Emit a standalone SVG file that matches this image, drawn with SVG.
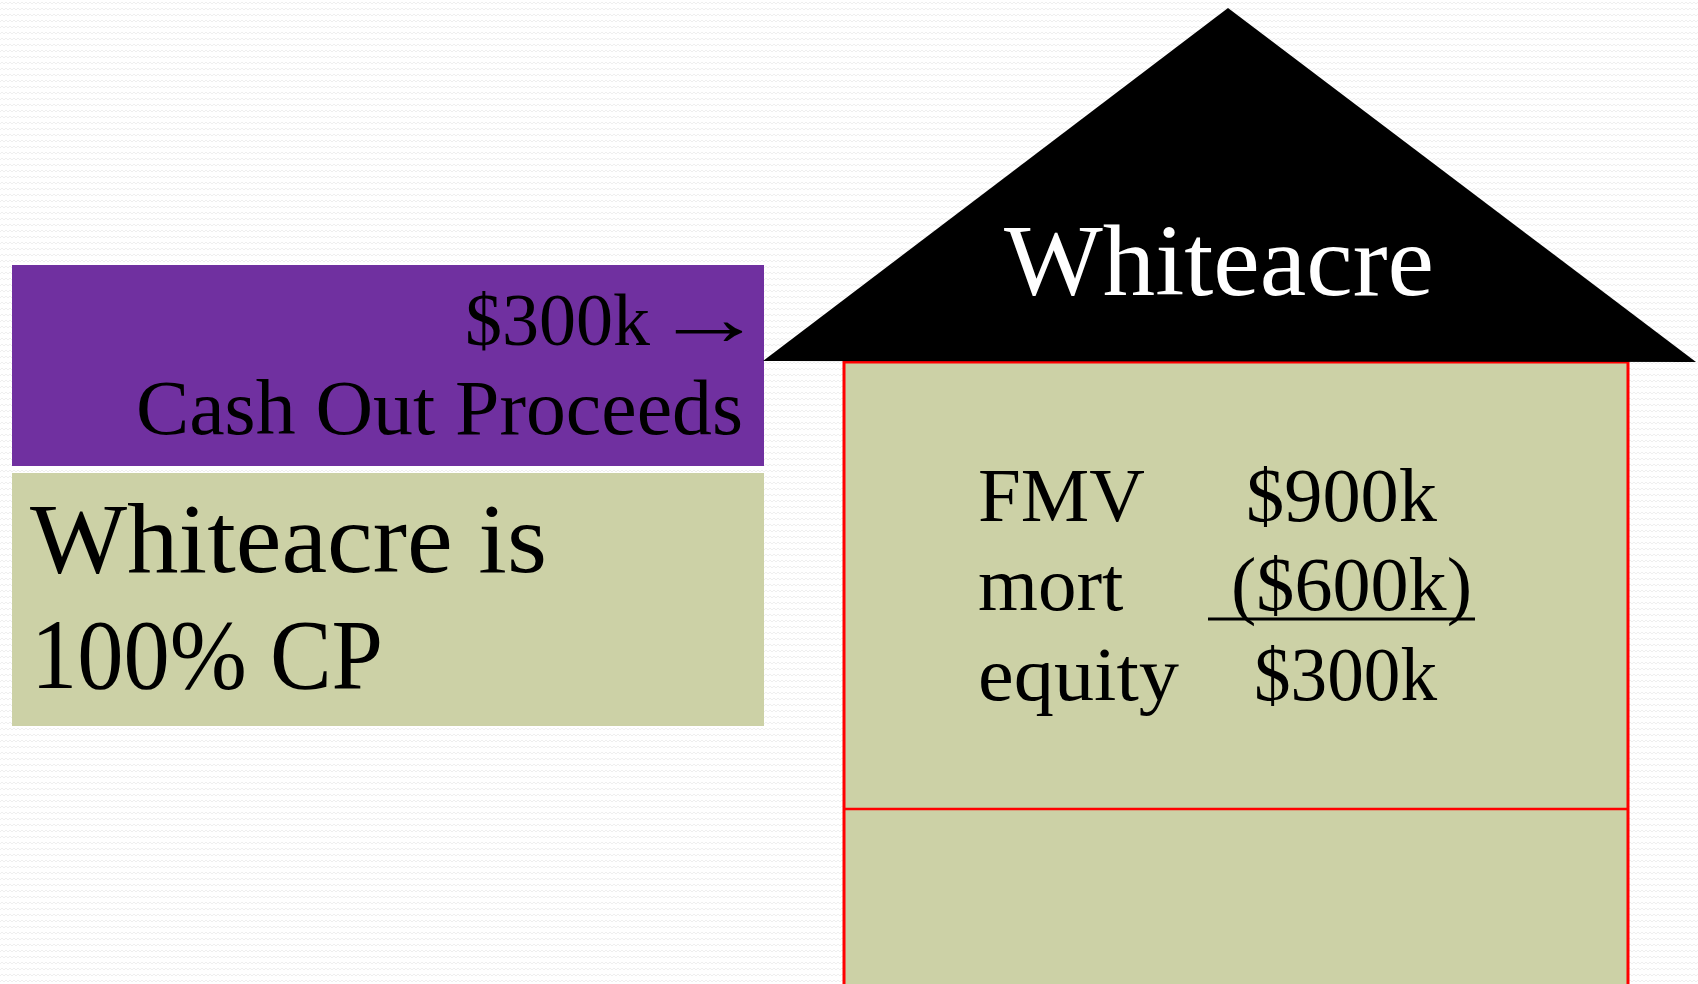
<svg xmlns="http://www.w3.org/2000/svg" width="1698" height="984" viewBox="0 0 1698 984">
  <style>
    .serif { font-family: "Liberation Serif", "DejaVu Serif", serif; }
    .dark { fill: #000000; }
    .light { fill: #FFFFFF; }
    .green { fill: #CCD1A6; }
  </style>
  <defs>
    <pattern id="bgpat" width="8" height="6" patternUnits="userSpaceOnUse">
      <rect width="8" height="6" fill="#FFFFFF"/>
      <path d="M0 4 L2 2 L4 4 L6 2 L8 4" fill="none" stroke="#EFEFEF" stroke-width="1"/>
    </pattern>
  </defs>
  <rect width="1698" height="984" fill="url(#bgpat)"/>

  <g id="cash-out">
    <rect x="12" y="265" width="752" height="201" fill="#7030A0"/>
    <text class="serif dark" x="465" y="345" font-size="74">$300k</text>
    <text class="serif dark" x="653" y="345" font-size="79" textLength="112" lengthAdjust="spacingAndGlyphs">→</text>
    <text class="serif dark" x="743" y="434" font-size="79" text-anchor="end" textLength="607" lengthAdjust="spacingAndGlyphs">Cash Out Proceeds</text>
  </g>

  <g id="cp-note">
    <rect class="green" x="12" y="473" width="752" height="253"/>
    <text class="serif dark" x="30" y="572" font-size="99" textLength="517" lengthAdjust="spacingAndGlyphs">Whiteacre is</text>
    <text class="serif dark" x="31" y="688" font-size="99" textLength="352" lengthAdjust="spacingAndGlyphs">100% CP</text>
  </g>

  <g id="house">
    <rect class="green" x="844" y="362" width="784" height="624" stroke="#FF0000" stroke-width="3"/>
    <line x1="844" y1="809" x2="1628" y2="809" stroke="#FF0000" stroke-width="2.5"/>
    <polygon points="1228,8 763,361 1696,362" fill="#000000"/>
    <text class="serif light" x="1004" y="295" font-size="101" textLength="430" lengthAdjust="spacingAndGlyphs">Whiteacre</text>
    <text class="serif dark" x="978" y="521" font-size="77">FMV</text>
    <text class="serif dark" x="1246" y="521" font-size="77" textLength="191" lengthAdjust="spacingAndGlyphs">$900k</text>
    <text class="serif dark" x="978" y="610" font-size="77">mort</text>
    <text class="serif dark" x="1231" y="610" font-size="77" textLength="241" lengthAdjust="spacingAndGlyphs">($600k)</text>
    <line x1="1208" y1="619" x2="1475" y2="619" stroke="#000000" stroke-width="3"/>
    <text class="serif dark" x="978" y="700" font-size="77" textLength="201" lengthAdjust="spacingAndGlyphs">equity</text>
    <text class="serif dark" x="1254" y="700" font-size="77" textLength="183" lengthAdjust="spacingAndGlyphs">$300k</text>
  </g>
</svg>
